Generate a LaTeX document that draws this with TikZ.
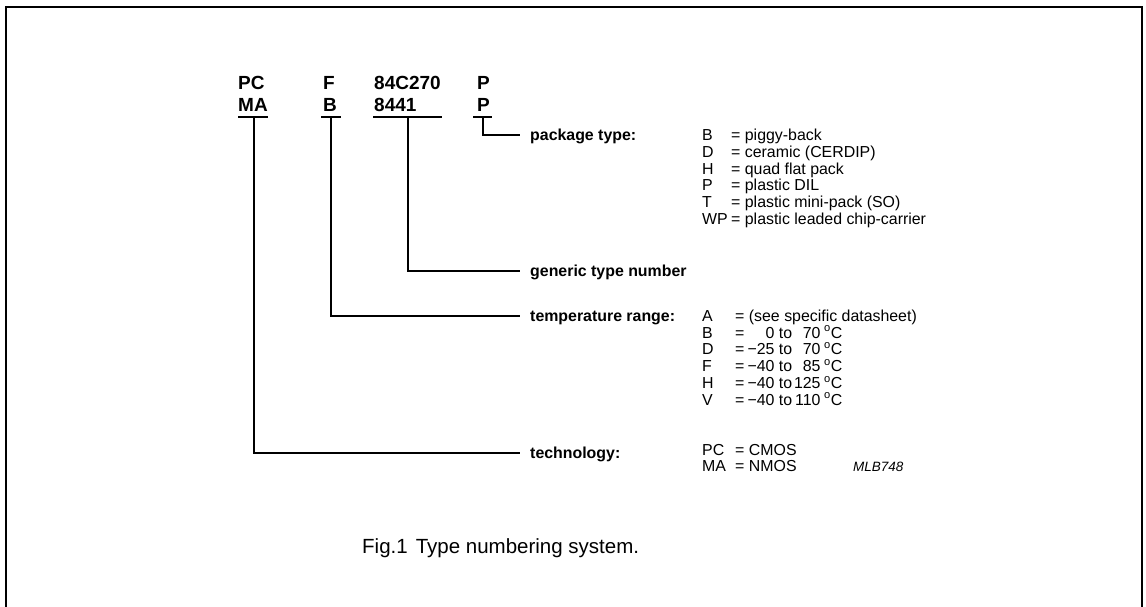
\documentclass[tikz,border=0pt]{standalone}
\usepackage{fontspec}
\setmainfont{Liberation Sans}
\begin{document}
\begin{tikzpicture}[x=1pt,y=-1pt,
  frame/.style={line width=1.6pt},
  conn/.style={line width=1.2pt},
  toplab/.style={anchor=base west, inner sep=0pt, font=\fontsize{19}{22}\selectfont\bfseries},
  lab/.style={anchor=west, inner xsep=10pt, inner ysep=0pt, text height=11.5pt, text depth=0.5pt, font=\fontsize{15.9}{17}\selectfont\bfseries},
  row/.style={anchor=base west, inner sep=0pt, font=\fontsize{15.9}{17}\selectfont},
  figcaption/.style={anchor=base west, inner sep=0pt, font=\fontsize{20.5}{24}\selectfont},
  codelabel/.style={anchor=base west, inner sep=0pt, font=\fontsize{13.5}{15}\selectfont\itshape},
]
\useasboundingbox (0,0) rectangle (1146,607);
% frame (open at the bottom)
\draw[frame] (6,607) -- (6,7) -- (1142,7) -- (1142,607);

% top labels
\node[toplab] (tPC) at (238,90) {PC};
\node[toplab] (bMA) at (238,112) {MA};
\node[toplab] (tF) at (323,90) {F};
\node[toplab] (bB) at (323,112) {B};
\node[toplab] (t84) at (374,90) {84C270};
\node[toplab] (b8441) at (374,112) {8441};
\node[toplab] (tP) at (477,90) {P};
\node[toplab] (bP) at (477,112) {P};

% underline coordinates
\coordinate (uPCa) at (238,117); \coordinate (uPCb) at (268,117); \coordinate (mPC) at (254,117);
\coordinate (uFa) at (321,117); \coordinate (uFb) at (341,117); \coordinate (mF) at (331,117);
\coordinate (u84a) at (373,117); \coordinate (u84b) at (442,117); \coordinate (m84) at (408,117);
\coordinate (uPa) at (473,117); \coordinate (uPb) at (492,117); \coordinate (mP) at (483,117);

% labels
\node[lab] (lPkg) at (520,135) {package type:};
\node[lab] (lGen) at (520,271) {generic type number};
\node[lab] (lTmp) at (520,316) {temperature range:};
\node[lab] (lTec) at (520,453) {technology:};

% connectors
\draw[conn] (uPCa) -- (uPCb);
\draw[conn] (uFa) -- (uFb);
\draw[conn] (u84a) -- (u84b);
\draw[conn] (uPa) -- (uPb);
\draw[conn] (mP) |- (lPkg.west);
\draw[conn] (m84) |- (lGen.west);
\draw[conn] (mF) |- (lTmp.west);
\draw[conn] (mPC) |- (lTec.west);

% package list
\node[row] (p1) at (702,140.5) {\makebox[29pt][l]{B}= piggy-back};
\node[row] (p2) at (702,157.3) {\makebox[29pt][l]{D}= ceramic (CERDIP)};
\node[row] (p3) at (702,174.1) {\makebox[29pt][l]{H}= quad flat pack};
\node[row] (p4) at (702,190.9) {\makebox[29pt][l]{P}= plastic DIL};
\node[row] (p5) at (702,207.7) {\makebox[29pt][l]{T}= plastic mini-pack (SO)};
\node[row] (p6) at (702,224.5) {\makebox[29pt][l]{WP}= plastic leaded chip-carrier};

% temperature list
\node[row] (r1) at (702,321.5) {\makebox[33pt][l]{A}= (see specific datasheet)};
\node[row] (r2) at (702,338.2) {\makebox[33pt][l]{B}=\makebox[30pt][r]{0} to \makebox[24pt][r]{70}\hspace{3.5pt}\textsuperscript{o}C};
\node[row] (r3) at (702,354.9) {\makebox[33pt][l]{D}=\makebox[30pt][r]{−25} to \makebox[24pt][r]{70}\hspace{3.5pt}\textsuperscript{o}C};
\node[row] (r4) at (702,371.6) {\makebox[33pt][l]{F}=\makebox[30pt][r]{−40} to \makebox[24pt][r]{85}\hspace{3.5pt}\textsuperscript{o}C};
\node[row] (r5) at (702,388.3) {\makebox[33pt][l]{H}=\makebox[30pt][r]{−40} to \makebox[24pt][r]{125}\hspace{3.5pt}\textsuperscript{o}C};
\node[row] (r6) at (702,405.0) {\makebox[33pt][l]{V}=\makebox[30pt][r]{−40} to \makebox[24pt][r]{110}\hspace{3.5pt}\textsuperscript{o}C};

% technology list
\node[row] (c1) at (702,455.5) {\makebox[33pt][l]{PC}= CMOS};
\node[row] (c2) at (702,471.5) {\makebox[33pt][l]{MA}= NMOS};
\node[codelabel] (mlb) at (853,471) {MLB748};

% caption
\node[figcaption] (caption) at (362,553) {Fig.1\hspace{8pt}Type numbering system.};
\end{tikzpicture}
\end{document}
